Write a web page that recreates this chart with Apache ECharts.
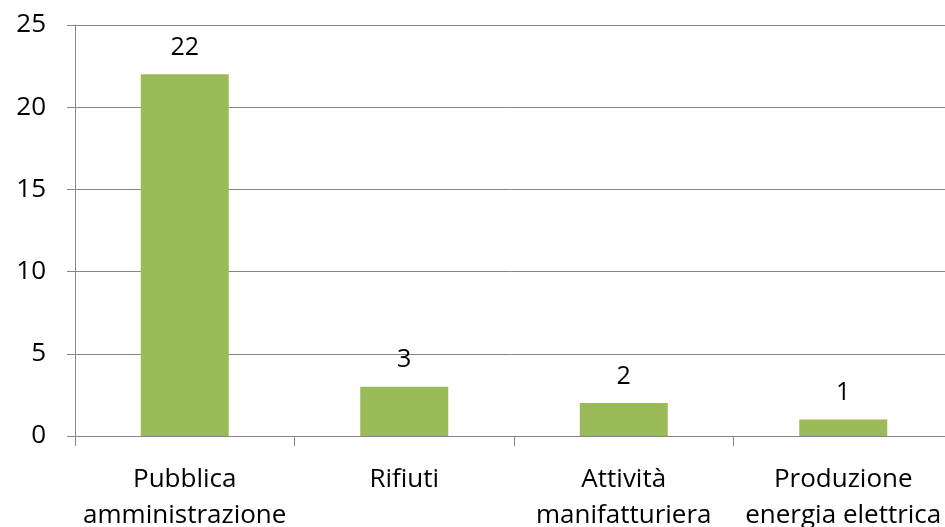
<!DOCTYPE html>
<html>
<head>
<meta charset="utf-8">
<script src="https://cdn.jsdelivr.net/npm/echarts@6/dist/echarts.min.js"></script>
<style>
  html, body { margin: 0; padding: 0; background: #fff; }
  #chart { width: 945px; height: 527px; }
</style>
</head>
<body>
<div id="chart"></div>
<script>
const categories = ['Pubblica\namministrazione', 'Rifiuti', 'Attività\nmanifatturiera', 'Produzione\nenergia elettrica']
const values = [22, 3, 2, 1]

const font = 'Open Sans'
const axisGray = '#868686'

const chart = echarts.init(document.getElementById('chart'))

const option = {
  animation: false,
  grid: {
    left: 75,
    top: 25,
    width: 878, // plot runs a bit past the right edge, as in the original
    height: 411,
    outerBoundsMode: 'none'
  },
  xAxis: {
    type: 'category',
    data: categories,
    axisLine: { lineStyle: { color: axisGray, width: 1 } },
    axisTick: { show: true, length: 10, interval: 0, lineStyle: { color: axisGray } },
    axisLabel: {
      interval: 0,
      fontFamily: font,
      fontSize: 26,
      lineHeight: 36,
      color: '#000',
      margin: 26
    }
  },
  yAxis: {
    type: 'value',
    min: 0,
    max: 25,
    interval: 5,
    axisLine: { show: true, lineStyle: { color: axisGray, width: 1 } },
    axisTick: { show: true, length: 8, lineStyle: { color: axisGray } },
    splitLine: { lineStyle: { color: axisGray, width: 1 } },
    axisLabel: {
      fontFamily: font,
      fontSize: 26,
      color: '#000',
      margin: 29
    }
  },
  series: [
    {
      type: 'bar',
      data: values,
      barWidth: 88,
      itemStyle: { color: '#9BBB59' },
      label: {
        show: true,
        position: 'top',
        distance: 14,
        fontFamily: font,
        fontSize: 25,
        color: '#000'
      }
    }
  ]
}

chart.setOption(option)
</script>
</body>
</html>
